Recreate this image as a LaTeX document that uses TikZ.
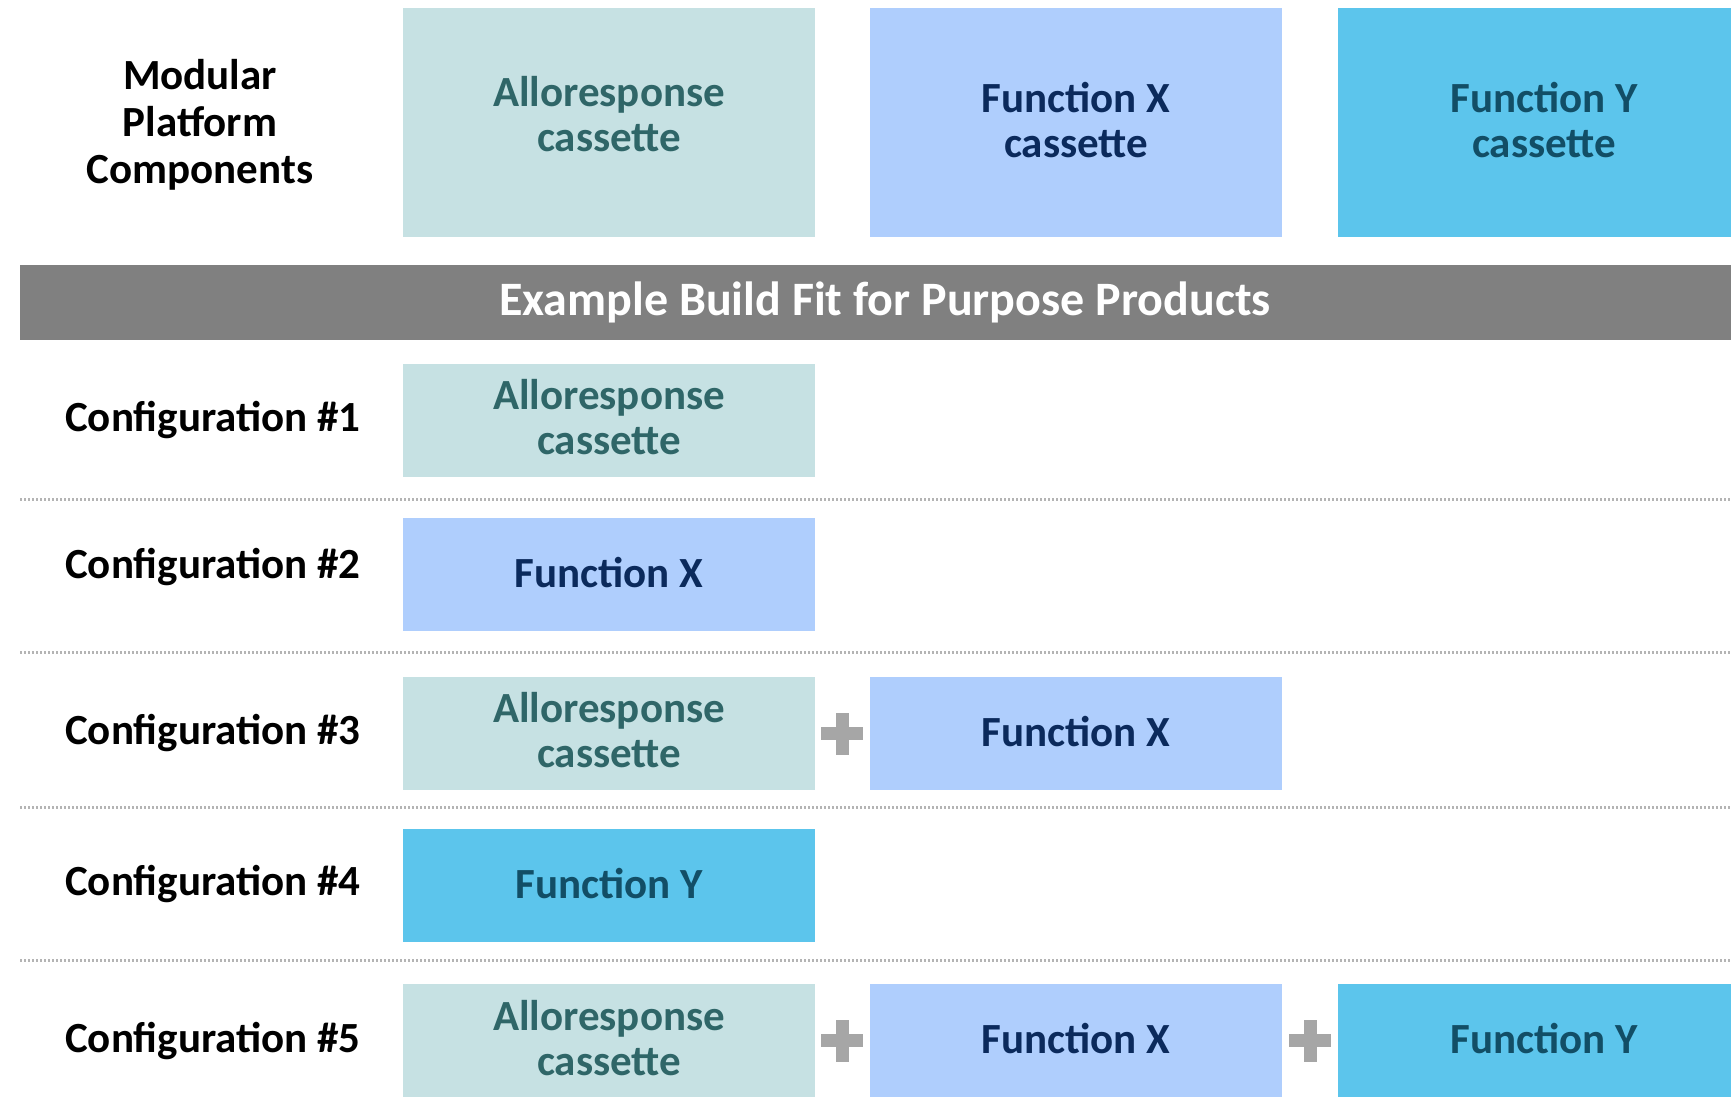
\documentclass[tikz,border=0pt]{standalone}
\usepackage{fontspec}
\setmainfont{Carlito}
\definecolor{alloFill}{HTML}{C6E1E3}
\definecolor{alloText}{HTML}{2F6668}
\definecolor{fxFill}{HTML}{AFCEFD}
\definecolor{fxText}{HTML}{0B2A5C}
\definecolor{fyFill}{HTML}{5CC5EC}
\definecolor{fyText}{HTML}{124E66}
\definecolor{bandGray}{HTML}{808080}
\definecolor{plusGray}{HTML}{A6A6A6}
\definecolor{sepGray}{HTML}{B4B4B4}
\newcommand{\boxfont}{\fontsize{43}{45}\selectfont\bfseries}
\tikzset{
  box/.style={minimum width=412pt, minimum height=113pt, inner sep=0pt},
  tallbox/.style={box, minimum height=229pt},
  btext/.style={inner sep=0pt, align=center, font=\boxfont},
  allo/.style={fill=alloFill},
  fx/.style={fill=fxFill},
  fy/.style={fill=fyFill},
  allot/.style={btext, text=alloText},
  fxt/.style={btext, text=fxText},
  fyt/.style={btext, text=fyText},
  lbl/.style={anchor=west, inner sep=0pt, font=\boxfont, text=black},
  sepline/.style={draw=sepGray, line width=3pt, dash pattern=on 2pt off 2pt},
  plussign/.style={minimum size=42pt, inner sep=0pt,
    path picture={
      \fill[plusGray] ([xshift=-6.5pt]path picture bounding box.north) rectangle ([xshift=6.5pt]path picture bounding box.south);
      \fill[plusGray] ([yshift=6.5pt]path picture bounding box.west) rectangle ([yshift=-6.5pt]path picture bounding box.east);
    }},
}
\begin{document}
\begin{tikzpicture}[x=1pt, y=-1pt]
\useasboundingbox (0,0) rectangle (1731,1108);
\clip (0,0) rectangle (1731,1108);
\fill[white] (0,0) rectangle (1731,1108);

% top row
\node[align=center, inner sep=0pt, font=\fontsize{43}{47}\selectfont\bfseries] (mpc) at (200,125) {Modular\\Platform\\Components};
\node[tallbox, allo] (tA) at (609,122.5) {};
\node[allot] (tAt) at ([yshift=8pt]tA.center) {Alloresponse\\cassette};
\node[tallbox, fx] (tX) at (1076,122.5) {};
\node[fxt] (tXt) at ([yshift=2pt]tX.center) {Function X\\cassette};
\node[tallbox, fy] (tY) at (1544,122.5) {};
\node[fyt] (tYt) at ([yshift=2pt]tY.center) {Function Y\\cassette};

% band
\node[fill=bandGray, minimum width=1730pt, minimum height=75pt, inner sep=0pt, text=white,
      font=\fontsize{48}{50}\selectfont\bfseries] (band) at (885,302.5) {Example Build Fit for Purpose Products};

% configuration 1
\node[lbl] (c1) at (65,420.5) {Configuration \#1};
\node[box, allo] (c1A) at (609,420.5) {};
\node[allot] (c1At) at ([yshift=3pt]c1A.center) {Alloresponse\\cassette};

% configuration 2
\node[lbl] (c2) at (65,567) {Configuration \#2};
\node[box, fx] (c2X) at (609,574.5) {};
\node[fxt] (c2Xt) at ([yshift=1.5pt]c2X.center) {Function X};

% configuration 3
\node[lbl] (c3) at (65,733.5) {Configuration \#3};
\node[box, allo] (c3A) at (609,733.5) {};
\node[allot] (c3At) at ([yshift=3pt]c3A.center) {Alloresponse\\cassette};
\node[plussign] (c3p) at (842,733.5) {};
\node[box, fx] (c3X) at (1076,733.5) {};
\node[fxt] (c3Xt) at ([yshift=2pt]c3X.center) {Function X};

% configuration 4
\node[lbl] (c4) at (65,884) {Configuration \#4};
\node[box, fy] (c4Y) at (609,885) {};
\node[fyt] (c4Yt) at ([yshift=1.5pt]c4Y.center) {Function Y};

% configuration 5
\node[lbl] (c5) at (65,1041.5) {Configuration \#5};
\node[box, allo] (c5A) at (609,1040.5) {};
\node[allot] (c5At) at ([yshift=2.5pt]c5A.center) {Alloresponse\\cassette};
\node[plussign] (c5p1) at (842,1040.5) {};
\node[box, fx] (c5X) at (1076,1040.5) {};
\node[fxt] (c5Xt) at ([yshift=2pt]c5X.center) {Function X};
\node[plussign] (c5p2) at (1310,1040.5) {};
\node[box, fy] (c5Y) at (1544,1040.5) {};
\node[fyt] (c5Yt) at ([yshift=2pt]c5Y.center) {Function Y};

% separators
\coordinate (s1l) at (20,499);  \coordinate (s1r) at (1731,499);
\coordinate (s2l) at (20,652);  \coordinate (s2r) at (1731,652);
\coordinate (s3l) at (20,807);  \coordinate (s3r) at (1731,807);
\coordinate (s4l) at (20,960);  \coordinate (s4r) at (1731,960);
\draw[sepline] (s1l) -- (s1r);
\draw[sepline] (s2l) -- (s2r);
\draw[sepline] (s3l) -- (s3r);
\draw[sepline] (s4l) -- (s4r);
\end{tikzpicture}
\end{document}
